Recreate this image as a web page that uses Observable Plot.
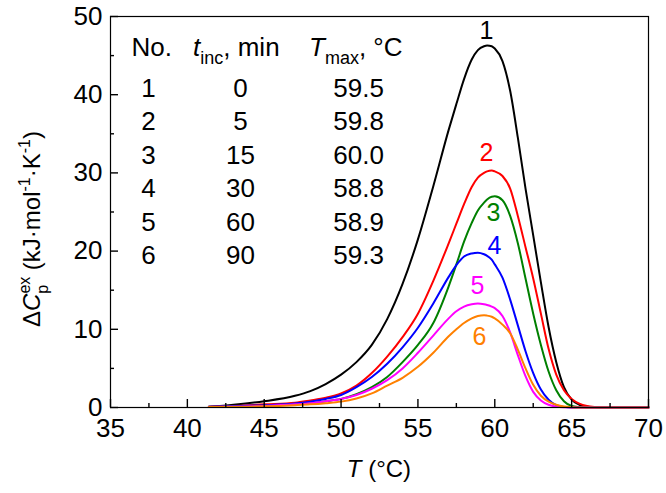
<!DOCTYPE html>
<html><head><meta charset="utf-8">
<script src="https://cdn.jsdelivr.net/npm/d3@7"></script>
<script src="https://cdn.jsdelivr.net/npm/@observablehq/plot@0.6"></script>
<style>
body{margin:0;background:#fff;}
svg{font-family:Arial,"Liberation Sans",sans-serif;}
</style>
</head><body><div id="chart"></div>
<script>
// Temperature grid (°C)
const temps = [41.4,43,45,47,48,49,50,51,52,53,54,55,56,57,57.5,58,58.5,58.9,59.3,59.5,59.8,60,60.5,61,61.5,62,62.5,63,63.5,64,64.5,65,65.5,66,66.5,67,68,70];
// Excess heat capacity (kJ/mol/K)
const cp1 = [0.1,0.35,0.8,1.5,2.1,3.0,4.2,5.8,8.0,11.3,15.8,21.5,28.3,35.5,38.8,42.0,44.5,45.7,46.2,46.3,46.2,45.9,44.3,40.5,34.5,28.0,22.0,16.0,10.3,5.8,2.6,1.0,0.35,0.1,0.03,0,0,0];
const cp2 = [0.1,0.2,0.4,0.6,0.9,1.25,1.8,2.8,4.4,6.5,9.0,12.0,16.2,21.0,23.5,26.0,28.2,29.4,30.0,30.2,30.3,30.2,29.6,28.0,24.5,20.5,16.5,12.0,7.5,4.2,2.2,1.1,0.5,0.2,0.07,0.02,0,0];
const cp3 = [0.05,0.1,0.2,0.4,0.55,0.8,1.1,1.7,2.6,3.9,5.8,8.0,10.8,15.5,18.3,21.2,23.6,25.2,26.2,26.6,26.95,27.0,26.5,24.5,21.0,16.5,12.0,8.0,4.6,2.2,0.8,0.2,0.05,0,0,0,0,0];
const cp4 = [0.1,0.2,0.3,0.5,0.75,1.1,1.6,2.6,3.9,5.6,7.7,10.2,13.3,16.7,18.2,19.3,19.7,19.8,19.6,19.4,18.9,18.3,16.6,13.8,10.5,7.2,4.4,2.3,1.0,0.3,0.08,0,0,0,0,0,0,0];
const cp5 = [0.05,0.1,0.2,0.4,0.55,0.8,1.1,1.6,2.4,3.5,5.0,7.0,9.2,11.4,12.3,12.9,13.2,13.3,13.2,13.1,12.9,12.7,11.7,9.6,6.7,4.0,2.0,0.9,0.35,0.1,0.02,0,0,0,0,0,0,0];
const cp6 = [0.05,0.08,0.15,0.3,0.4,0.55,0.75,1.15,1.8,2.8,3.8,5.2,7.0,9.1,10.0,10.8,11.4,11.7,11.8,11.75,11.6,11.4,10.6,9.5,7.4,5.0,2.9,1.5,0.75,0.35,0.12,0.03,0,0,0,0,0,0];

const seriesNames = ["1","2","3","4","5","6"];
const seriesColors = ["#000000","#ff0000","#008000","#0000ff","#ff00ff","#ff8000"];
const seriesValues = [cp1,cp2,cp3,cp4,cp5,cp6];

// Curve labels (placed near each peak)
const labelX = [59.46,59.46,59.92,59.98,58.88,59.0];
const labelY = [48.2,32.5,24.9,20.6,15.6,9.0];

// Table
const tableNo = ["1","2","3","4","5","6"];
const tableTinc = ["0","5","15","30","60","90"];
const tableTmax = ["59.5","59.8","60.0","58.8","58.9","59.3"];

const xMajor = [35,40,45,50,55,60,65,70];
const xMinor = [37.5,42.5,47.5,52.5,57.5,62.5,67.5];
const yMajor = [0,10,20,30,40,50];
const yMinor = [5,15,25,35,45];
const xDomain = [35, 70], yDomain = [0, 50];

const W = 666, H = 493, ML = 110, MR = 18, MT = 16, MB = 86;

const rows = [];
seriesValues.forEach((vals, s) => temps.forEach((t, i) => rows.push({s: seriesNames[s], t, v: vals[i]})));

const lineMarks = seriesNames.map((n, s) =>
  Plot.line(rows.filter(d => d.s === n), {x: "t", y: "v", stroke: seriesColors[s], strokeWidth: 2, curve: "monotone-x"}));

const labels = seriesNames.map((n, i) => ({n, x: labelX[i], y: labelY[i], c: seriesColors[i]}));

const tableRows = tableNo.map((n, i) => ({i, n, t: tableTinc[i], m: tableTmax[i]}));
const rowY = i => 40.8 - i * 4.28;

const chart = Plot.plot({
  width: W, height: H,
  marginLeft: ML, marginRight: MR, marginTop: MT, marginBottom: MB,
  style: {fontFamily: "Arial, 'Liberation Sans', sans-serif", fontSize: "26px", color: "#000", background: "#fff"},
  x: {domain: xDomain},
  y: {domain: yDomain},
  marks: [
    ...lineMarks,
    Plot.frame({stroke: "#000", strokeWidth: 1.2}),
    // inward ticks (negative tick size), no text
    Plot.axisX(xMajor, {tickSize: -8, text: null, label: null, stroke: "#000", strokeWidth: 1.4}),
    Plot.axisX(xMinor, {tickSize: -4, text: null, label: null, stroke: "#000", strokeWidth: 1.4}),
    Plot.axisY(yMajor, {tickSize: -8, text: null, label: null, stroke: "#000", strokeWidth: 1.4}),
    Plot.axisY(yMinor, {tickSize: -4, text: null, label: null, stroke: "#000", strokeWidth: 1.4}),
    // tick labels
    Plot.axisX(xMajor, {tickSize: 0, tickPadding: 11, fontSize: 26, label: null, tickFormat: d => String(d)}),
    Plot.axisY(yMajor, {tickSize: 0, tickPadding: 8, fontSize: 26, label: null, tickFormat: d => String(d)}),
    Plot.text(labels, {x: "x", y: "y", text: "n", fill: "c", fontSize: 25}),
    Plot.text(tableRows, {x: () => 37.47, y: d => rowY(d.i), text: "n", fontSize: 26}),
    Plot.text(tableRows, {x: () => 43.46, y: d => rowY(d.i), text: "t", fontSize: 26}),
    Plot.text(tableRows, {x: () => 51.14, y: d => rowY(d.i), text: "m", fontSize: 26})
  ]
});
document.getElementById("chart").appendChild(chart);

const svg = d3.select(chart);
const xs = chart.scale("x"), ys = chart.scale("y");
// Table header
const hy = ys.apply(rowY(0) + 5.3) + 10;
svg.append("text").attr("x", xs.apply(36.4)).attr("y", hy).attr("text-anchor", "start").attr("font-size", 26).text("No.");
const h2 = svg.append("text").attr("x", 193).attr("y", hy).attr("text-anchor", "start").attr("font-size", 26);
h2.append("tspan").attr("font-style", "italic").text("t");
h2.append("tspan").attr("font-size", 18).attr("dy", 8).text("inc");
h2.append("tspan").attr("dy", -8).text(", min");
const h3 = svg.append("text").attr("x", 309).attr("y", hy).attr("text-anchor", "start").attr("font-size", 26);
h3.append("tspan").attr("font-style", "italic").text("T");
h3.append("tspan").attr("font-size", 18).attr("dy", 8).text("max");
h3.append("tspan").attr("dy", -8).text(", \u00B0C");

// X label
const xl = svg.append("text").attr("x", 379).attr("y", 477).attr("text-anchor", "middle").attr("font-size", 24);
xl.append("tspan").attr("font-style", "italic").text("T");
xl.append("tspan").text(" (\u00B0C)");

// Y label
const yl = svg.append("text").attr("transform", "translate(40,229) rotate(-90)").attr("text-anchor", "middle").attr("font-size", 24);
yl.append("tspan").text("\u0394");
yl.append("tspan").attr("font-style", "italic").text("C");
yl.append("tspan").attr("font-size", 16).attr("dy", -10).text("ex");
yl.append("tspan").attr("font-size", 16).attr("dx", -17).attr("dy", 18).text("p");
yl.append("tspan").attr("dx", 8).attr("dy", -8).text(" (kJ\u00B7mol");
yl.append("tspan").attr("font-size", 16).attr("dy", -10).text("-1");
yl.append("tspan").attr("dy", 10).text("\u00B7K");
yl.append("tspan").attr("font-size", 16).attr("dy", -10).text("-1");
yl.append("tspan").attr("dy", 10).text(")");
</script>
</body></html>
